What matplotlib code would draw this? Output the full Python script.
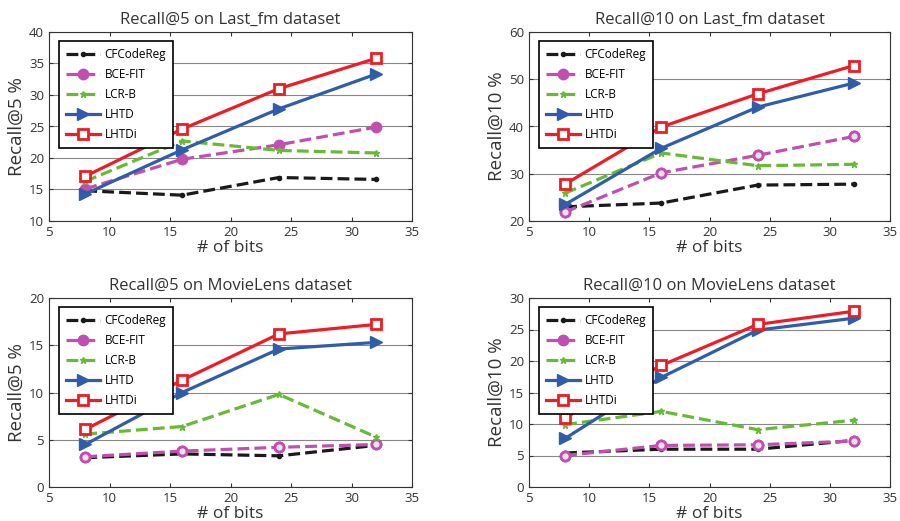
import numpy as np
import matplotlib.pyplot as plt

# data
bits = [8, 16, 24, 32]
methods = ['CFCodeReg', 'BCE-FIT', 'LCR-B', 'LHTD', 'LHTDi']

lastfm_r5 = [
    [14.8, 14.1, 16.9, 16.6],
    [15.1, 19.8, 22.1, 24.9],
    [16.3, 22.7, 21.2, 20.8],
    [14.3, 21.3, 27.8, 33.3],
    [17.1, 24.6, 31.0, 35.8],
]
lastfm_r10 = [
    [23.0, 23.8, 27.6, 27.8],
    [21.9, 30.2, 33.9, 37.9],
    [25.9, 34.4, 31.7, 32.0],
    [23.5, 35.4, 44.1, 49.2],
    [27.8, 39.9, 46.9, 52.9],
]
movielens_r5 = [
    [3.1, 3.5, 3.3, 4.4],
    [3.2, 3.8, 4.2, 4.5],
    [5.6, 6.4, 9.8, 5.3],
    [4.5, 10.0, 14.6, 15.3],
    [6.1, 11.3, 16.2, 17.2],
]
movielens_r10 = [
    [5.4, 6.0, 6.0, 7.4],
    [5.0, 6.6, 6.7, 7.3],
    [9.9, 12.0, 9.1, 10.6],
    [7.7, 17.4, 24.9, 26.8],
    [11.0, 19.3, 25.8, 27.9],
]

titles = ['Recall@5 on Last_fm dataset', 'Recall@10 on Last_fm dataset',
          'Recall@5 on MovieLens dataset', 'Recall@10 on MovieLens dataset']
ylabels = ['Recall@5 %', 'Recall@10 %', 'Recall@5 %', 'Recall@10 %']
ylims = [(10, 40), (20, 60), (0, 20), (0, 30)]
ysteps = [5, 10, 5, 5]
panels = [lastfm_r5, lastfm_r10, movielens_r5, movielens_r10]

colors = ['#1a1a1a', '#c04fb0', '#66bb33', '#2f5daa', '#ee1c24']
styles = [
    dict(ls='--', marker='.', ms=6),
    dict(ls='--', marker='o', ms=6.5, mew=2),
    dict(ls='--', marker='*', ms=5),
    dict(ls='-', marker='>', ms=9),
    dict(ls='-', marker='s', ms=7, mew=2, mfc='white'),
]

plt.rcParams['font.family'] = ['Open Sans', 'DejaVu Sans']

fig = plt.figure(figsize=(9, 5.21), dpi=100)
W, H = 900, 521
boxes = [(49, 32, 412, 221), (529, 32, 890, 221),
         (49, 298, 412, 487), (529, 298, 890, 487)]

for i in range(4):
    x0, y0, x1, y1 = boxes[i]
    ax = fig.add_axes([x0 / W, 1 - y1 / H, (x1 - x0) / W, (y1 - y0) / H])
    handles = []
    for j, name in enumerate(methods):
        st = dict(styles[j])
        st.setdefault('mfc', colors[j])
        ln, = ax.plot(bits, panels[i][j], label=name, lw=2.3, color=colors[j], **st)
        handles.append(ln)
        if j == 1 and i > 0:
            # open circles on the data, legend keeps the filled one
            ax.plot(bits, panels[i][j], ls='none', marker='o', ms=6.5, mew=2,
                    color=colors[j], mfc='#f3dff0')
    ax.set_xlim(5, 35)
    ax.set_xticks(np.arange(5, 36, 5))
    lo, hi = ylims[i]
    ax.set_ylim(lo, hi)
    ax.set_yticks(np.arange(lo, hi + 0.1, ysteps[i]))
    ax.yaxis.grid(True, color='#888888', lw=0.8)
    ax.set_axisbelow(True)
    ax.tick_params(direction='in', top=True, right=True, labelsize=9.5,
                   colors='#333333', length=3)
    for s in ax.spines.values():
        s.set_color('#333333')
    ax.set_title(titles[i], fontsize=12, color='#333333', pad=6)
    ax.set_xlabel('# of bits', fontsize=12.5, color='#333333', labelpad=1)
    ax.set_ylabel(ylabels[i], fontsize=13.5, color='#333333', labelpad=2)
    leg = ax.legend(handles=handles, loc='upper left', fontsize=8.5,
                    frameon=True, fancybox=False, framealpha=1,
                    edgecolor='black', handlelength=2.9, borderpad=0.6,
                    labelspacing=0.6, handletextpad=0.4,
                    bbox_to_anchor=(0.01, 0.985))
    leg.get_frame().set_linewidth(1.2)

fig.savefig('out.png', dpi=100)
